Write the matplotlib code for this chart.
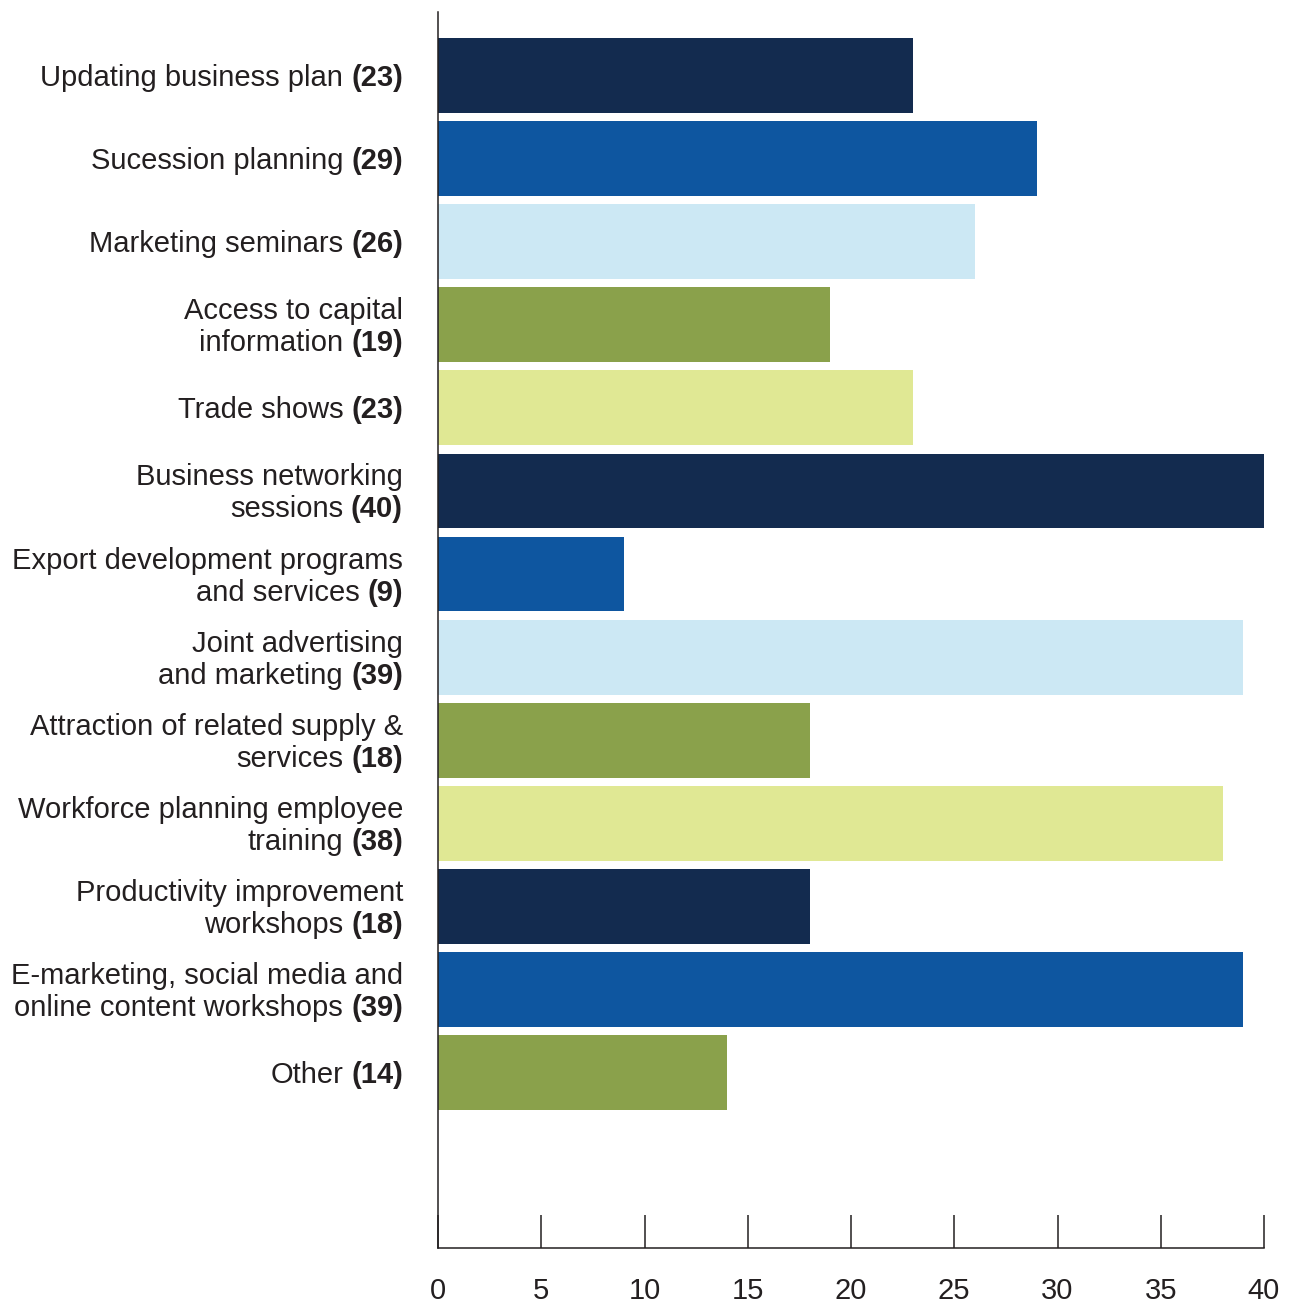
import matplotlib
matplotlib.use("Agg")
import matplotlib.pyplot as plt

plt.rcParams["font.family"] = ["Liberation Sans", "DejaVu Sans"]

labels = ["Updating business plan", "Sucession planning", "Marketing seminars",
          "Access to capital\ninformation", "Trade shows", "Business networking\nsessions",
          "Export development programs\nand services", "Joint advertising\nand marketing",
          "Attraction of related supply &\nservices", "Workforce planning employee\ntraining",
          "Productivity improvement\nworkshops", "E-marketing, social media and\nonline content workshops",
          "Other"]
counts = [23, 29, 26, 19, 23, 40, 9, 39, 18, 38, 18, 39, 14]

NAVY, BLUE, LIGHT, GREEN, LIME = "#132B4F", "#0E56A0", "#CCE8F4", "#8AA14B", "#E0E894"
colors = [NAVY, BLUE, LIGHT, GREEN, LIME, NAVY, BLUE, LIGHT, GREEN, LIME, NAVY, BLUE, GREEN]

TXT = "#231F20"
FS = 21

fig = plt.figure(figsize=(12.91, 13.04), dpi=100)
ax = fig.add_axes([438 / 1291, 56 / 1304, 826 / 1291, 1236 / 1304])

ypos = list(range(len(counts)))
ax.barh(ypos, counts, height=0.9, color=colors, linewidth=0)
ax.set_xlim(0, 40)
ax.set_ylim(14.11, -0.764)

for s in ("top", "right"):
    ax.spines[s].set_visible(False)
for s in ("left", "bottom"):
    ax.spines[s].set_color(TXT)
    ax.spines[s].set_linewidth(1.1)

ax.set_yticks([])
ax.set_xticks(range(0, 41, 5))
ax.tick_params(axis="x", direction="in", length=24, width=1.1, color=TXT,
               labelsize=FS, labelcolor=TXT, pad=21)

# category labels: regular text with the count in bold on the last line
ytr = ax.get_yaxis_transform()
xr = -35 / 826
line_gap = 32 / 83.1
base_off = 10.5 / 83.1
for y, lab, n in zip(ypos, labels, counts):
    lines = lab.split("\n")
    k = len(lines)
    first = y + base_off - line_gap * (k - 1) / 2
    for i, line in enumerate(lines[:-1]):
        ax.text(xr, first + i * line_gap, line, transform=ytr, ha="right",
                va="baseline", fontsize=FS, color=TXT)
    yl = first + (k - 1) * line_gap
    num = ax.text(xr, yl, f"({n})", transform=ytr, ha="right", va="baseline",
                  fontsize=FS, fontweight="bold", color=TXT)
    ax.annotate(lines[-1], xy=(0, 0), xycoords=num, xytext=(-8, 0),
                textcoords="offset pixels", ha="right", va="bottom",
                fontsize=FS, color=TXT, annotation_clip=False)

fig.savefig("out.png", dpi=100)
